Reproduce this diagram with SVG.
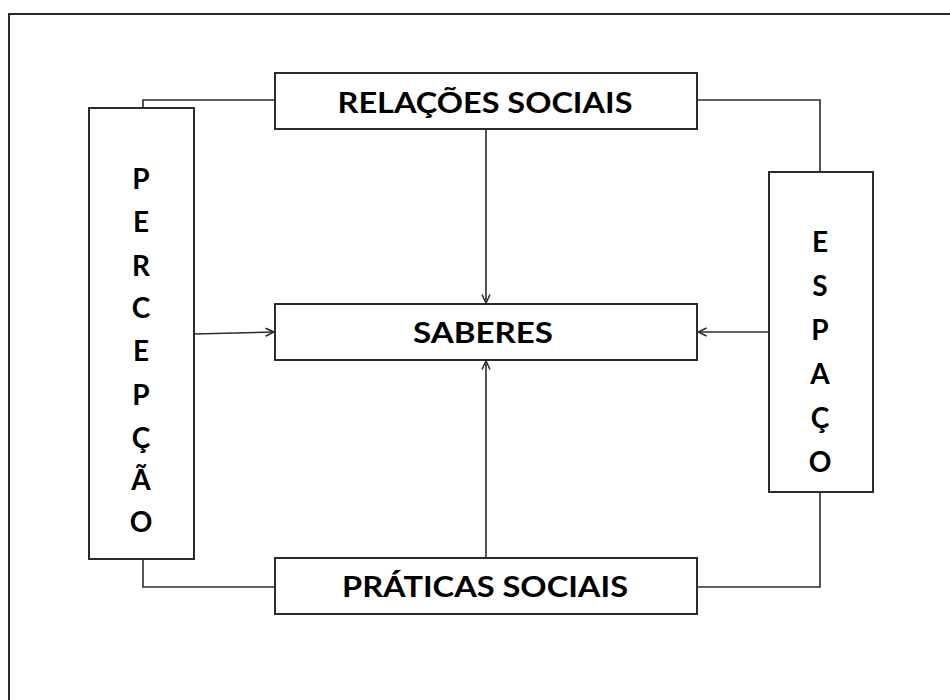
<svg xmlns="http://www.w3.org/2000/svg" width="950" height="700" viewBox="0 0 950 700">
<style>
.box{fill:#fff;stroke:#2b2b2b;stroke-width:2}
.ln{fill:none;stroke:#2b2b2b;stroke-width:1.6}
.t{font-family:Lato,"Liberation Sans",sans-serif;font-weight:bold;font-size:28px;fill:#000;text-anchor:middle}
</style>
<defs>
<marker id="ah" viewBox="0 0 10 10" refX="9.5" refY="5" markerWidth="10" markerHeight="10" markerUnits="userSpaceOnUse" orient="auto">
<path d="M1,1 L9.5,5 L1,9" fill="none" stroke="#2b2b2b" stroke-width="1.5"/>
</marker>
</defs>
<rect width="950" height="700" fill="#fff"/>
<path d="M9,700 V14 H950" fill="none" stroke="#2b2b2b" stroke-width="2"/>
<g id="connectors">
<path class="ln" d="M143,108 V100 H275"/>
<path class="ln" d="M697,100 H820 V172"/>
<path class="ln" d="M143,559 V587 H275"/>
<path class="ln" d="M697,587 H820 V492"/>
<path class="ln" d="M486,129 V303" marker-end="url(#ah)"/>
<path class="ln" d="M486,558 V361" marker-end="url(#ah)"/>
<path class="ln" d="M194,334 L274,332" marker-end="url(#ah)"/>
<path class="ln" d="M769,332 H698" marker-end="url(#ah)"/>
</g>
<g id="relacoes">
<rect class="box" x="275" y="73" width="422" height="56"/>
<text class="t" x="485" y="113" textLength="295" lengthAdjust="spacingAndGlyphs">RELAÇÕES SOCIAIS</text>
</g>
<g id="saberes">
<rect class="box" x="275" y="304" width="422" height="56"/>
<text class="t" x="483" y="343" textLength="140" lengthAdjust="spacingAndGlyphs">SABERES</text>
</g>
<g id="praticas">
<rect class="box" x="275" y="558" width="422" height="56"/>
<text class="t" x="485" y="597" textLength="286" lengthAdjust="spacingAndGlyphs">PRÁTICAS SOCIAIS</text>
</g>
<g id="percepcao">
<rect class="box" x="89" y="108" width="105" height="451"/>
<text class="t" x="141" y="189">P</text>
<text class="t" x="141" y="232">E</text>
<text class="t" x="141" y="276">R</text>
<text class="t" x="141" y="318">C</text>
<text class="t" x="141" y="361">E</text>
<text class="t" x="141" y="405">P</text>
<text class="t" x="141" y="448">Ç</text>
<text class="t" x="141" y="490">Ã</text>
<text class="t" x="141" y="532">O</text>
</g>
<g id="espaco">
<rect class="box" x="769" y="172" width="104" height="320"/>
<text class="t" x="820" y="252">E</text>
<text class="t" x="820" y="296">S</text>
<text class="t" x="820" y="340">P</text>
<text class="t" x="820" y="384">A</text>
<text class="t" x="820" y="428">Ç</text>
<text class="t" x="820" y="472">O</text>
</g>
</svg>
